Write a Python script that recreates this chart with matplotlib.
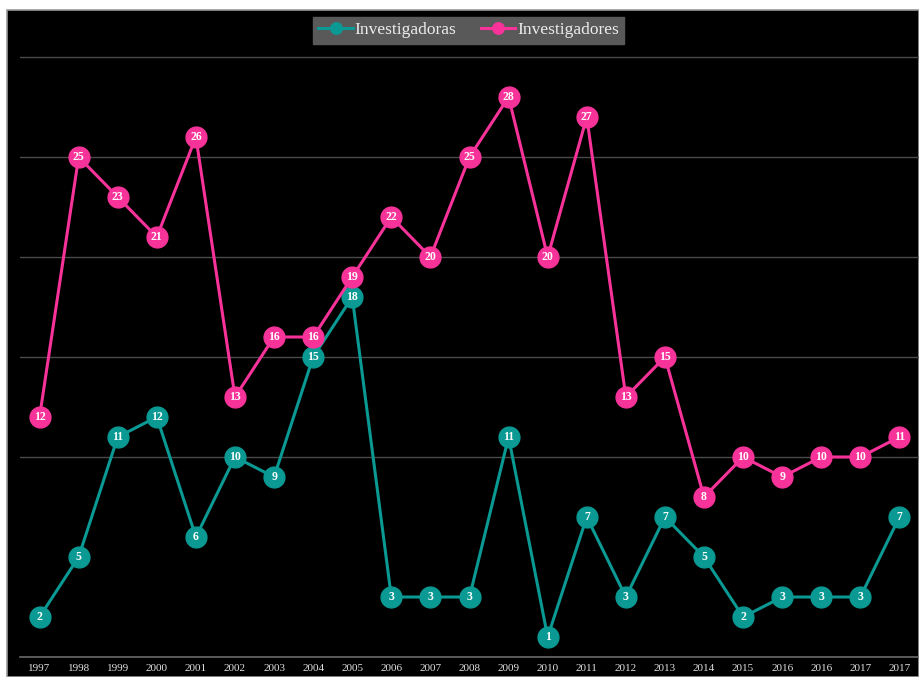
import matplotlib.pyplot as plt
import matplotlib
from matplotlib.patches import Rectangle

matplotlib.rcParams.update({
    'font.family': ['Liberation Serif', 'DejaVu Serif'],
})

# ============================================================
# DATA
# ============================================================
years = ['1997', '1998', '1999', '2000', '2001', '2002', '2003', '2004', '2005',
         '2006', '2007', '2008', '2009', '2010', '2011', '2012', '2013', '2014',
         '2015', '2016', '2016', '2017', '2017']
investigadoras = [2, 5, 11, 12, 6, 10, 9, 15, 18, 3, 3, 3, 11, 1, 7, 3, 7, 5, 2, 3, 3, 3, 7]
investigadores = [12, 25, 23, 21, 26, 13, 16, 16, 19, 22, 20, 25, 28, 20, 27, 13, 15, 8, 10, 9, 10, 10, 11]

teal = '#0a9993'
pink = '#f7339a'

W, H = 919, 677
fig = plt.figure(figsize=(W / 100, H / 100), dpi=100, facecolor='white')

# black panel with thin grey edge (behind the axes)
fig.patches.append(Rectangle((7 / W, 0), 1 - 7 / W, 1 - 10 / H, transform=fig.transFigure,
                             facecolor='black', edgecolor='#9a9a9a', linewidth=1.2, zorder=-5))

ax = fig.add_axes([20 / W, 20 / H, 899 / W, 647 / H])
ax.set_facecolor('black')
ax.patch.set_alpha(0)

x = list(range(len(years)))
ax.plot(x, investigadoras, '-o', color=teal, linewidth=2.2, markersize=15,
        label='Investigadoras', zorder=3)
ax.plot(x, investigadores, '-o', color=pink, linewidth=2.2, markersize=15,
        label='Investigadores', zorder=3)

for xi, v in zip(x, investigadoras):
    ax.text(xi, v, str(v), ha='center', va='center', color='white',
            fontsize=8.5, fontweight='bold', zorder=4)
for xi, v in zip(x, investigadores):
    ax.text(xi, v, str(v), ha='center', va='center', color='white',
            fontsize=8.5, fontweight='bold', zorder=4)

ax.set_xlim(-0.5, len(years) - 0.5)
ax.set_ylim(0, 32.35)
ax.set_xticks(x)
ax.set_xticklabels(years, color='#e0e0e0', fontsize=8)
ax.set_yticks([10, 15, 20, 25, 30])
ax.set_yticklabels([])
ax.tick_params(axis='both', length=0)
ax.tick_params(axis='x', pad=5)
ax.grid(axis='y', color='#4a4a4a', linewidth=1)
ax.set_axisbelow(True)

for s in ['top', 'right', 'left']:
    ax.spines[s].set_visible(False)
ax.spines['bottom'].set_color('#6a6a6a')
ax.spines['bottom'].set_linewidth(1.2)

leg = ax.legend(loc='upper center', bbox_to_anchor=(0.499, 0.989), ncol=2, fontsize=12.5,
                frameon=True, fancybox=False, facecolor='#595959', edgecolor='#595959',
                framealpha=1, handlelength=2.0, handletextpad=0.1, columnspacing=1.4,
                borderpad=0.3, borderaxespad=0, markerscale=0.55)
for t in leg.get_texts():
    t.set_color('#ececec')

plt.savefig('out.png', dpi=100, facecolor='white')
print('Saved out.png')
